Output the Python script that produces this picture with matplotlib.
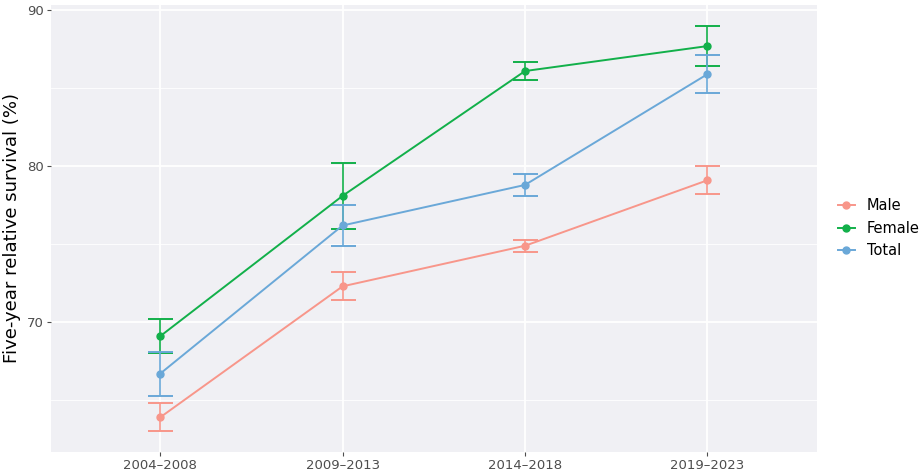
import matplotlib
matplotlib.use("Agg")
import matplotlib.pyplot as plt
from matplotlib.lines import Line2D

periods = ["2004–2008", "2009–2013", "2014–2018", "2019–2023"]
male = [63.9, 72.3, 74.9, 79.1]
male_lo = [63.0, 71.4, 74.5, 78.2]
male_hi = [64.8, 73.2, 75.3, 80.0]
female = [69.1, 78.1, 86.1, 87.7]
female_lo = [68.05, 76.0, 85.5, 86.4]
female_hi = [70.2, 80.2, 86.7, 89.0]
total = [66.7, 76.2, 78.8, 85.9]
total_lo = [65.3, 74.9, 78.1, 84.7]
total_hi = [68.1, 77.5, 79.5, 87.1]

fig = plt.figure(figsize=(9.21, 4.73), dpi=100)
ax = fig.add_axes([0.055, 0.045, 0.832, 0.945])
ax.set_facecolor("#F0F0F4")
x = list(range(len(periods)))
series = [("Male", male, male_lo, male_hi, "#F8968A"),
          ("Female", female, female_lo, female_hi, "#12B04A"),
          ("Total", total, total_lo, total_hi, "#6AA8D8")]
handles = []
for name, v, lo, hi, c in series:
    yerr = [[a - b for a, b in zip(v, lo)], [b - a for a, b in zip(v, hi)]]
    ax.errorbar(x, v, yerr=yerr, color=c, marker="o", ms=5, lw=1.4,
                capsize=9, capthick=1.4, elinewidth=1.2, zorder=3)
    handles.append(Line2D([], [], color=c, marker="o", ms=5, lw=1.4, label=name))
ax.set_xlim(-0.6, 3.6)
ax.set_ylim(61.7, 90.35)
ax.set_xticks(x)
ax.set_xticklabels(periods)
ax.set_yticks([70, 80, 90])
ax.set_yticks([65, 75, 85], minor=True)
ax.grid(True, which="major", color="white", lw=1.3)
ax.grid(True, which="minor", color="white", lw=0.6)
ax.set_axisbelow(True)
for s in ax.spines.values():
    s.set_visible(False)
ax.tick_params(axis="both", which="major", colors="#4D4D4D", labelsize=9.5, length=3, pad=2)
ax.tick_params(axis="both", which="minor", length=0)
ax.set_ylabel("Five-year relative survival (%)", fontsize=13)
leg = ax.legend(handles=handles, loc="center left", bbox_to_anchor=(1.01, 0.5), frameon=False,
                fontsize=10.5, handlelength=1.2)
fig.savefig("out.png", dpi=100)
